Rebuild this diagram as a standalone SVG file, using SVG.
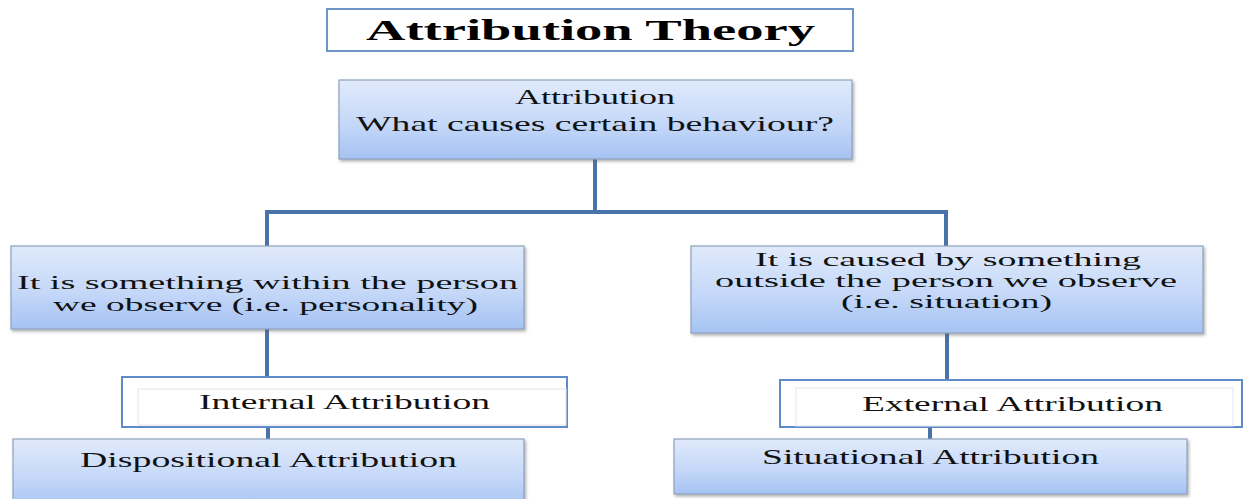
<svg xmlns="http://www.w3.org/2000/svg" width="1244" height="499" viewBox="0 0 1244 499">
<defs>
<linearGradient id="blue" x1="0" y1="0" x2="0" y2="1">
<stop offset="0" stop-color="#E0EAFB"/>
<stop offset="0.55" stop-color="#C5D8F8"/>
<stop offset="1" stop-color="#A5C3F3"/>
</linearGradient>
<filter id="shadow" x="-5%" y="-10%" width="110%" height="125%">
<feDropShadow dx="1.5" dy="2" stdDeviation="1.5" flood-color="#555" flood-opacity="0.45"/>
</filter>
</defs>
<style>
.t{font-family:"Liberation Serif","Times New Roman",serif;fill:#111;}
.title{font-family:"Liberation Serif","Times New Roman",serif;font-weight:bold;fill:#000;font-size:30px;}
.gbox{fill:url(#blue);stroke:#8EA2BE;stroke-width:1.2;filter:url(#shadow);}
.wbox{fill:#fff;stroke:#5F8BC9;stroke-width:2;}
.inner{fill:#fff;fill-opacity:0.6;stroke:#E2E6EC;stroke-width:1;}
.conn{stroke:#4A74A9;stroke-width:4;fill:none;}
</style>
<rect width="1244" height="499" fill="#fff"/>

<g id="connectors">
<path class="conn" d="M595,158 V212 M267,246 V212 H946 V246"/>
<path class="conn" d="M267,329 V389"/>
<path class="conn" d="M268,425 V439"/>
<path class="conn" d="M947,333 V389"/>
<path class="conn" d="M930,425 V439"/>
</g>

<g id="title">
<rect x="327" y="9" width="526" height="42" fill="#fff" stroke="#6E93C6" stroke-width="2"/>
<text class="title" x="366" y="40" textLength="449" lengthAdjust="spacingAndGlyphs">Attribution Theory</text>
</g>

<g id="attribution">
<rect class="gbox" x="339" y="80" width="513" height="79"/>
<text class="t" x="515" y="104" font-size="21" textLength="160" lengthAdjust="spacingAndGlyphs">Attribution</text>
<text class="t" x="356" y="131" font-size="21" textLength="478" lengthAdjust="spacingAndGlyphs">What causes certain behaviour?</text>
</g>

<g id="within">
<rect class="gbox" x="11" y="246" width="513" height="83"/>
<text class="t" x="17" y="289" font-size="19" textLength="501" lengthAdjust="spacingAndGlyphs">It is something  within the person</text>
<text class="t" x="53" y="311" font-size="19" textLength="425" lengthAdjust="spacingAndGlyphs">we observe (i.e. personality)</text>
</g>

<g id="outside">
<rect class="gbox" x="691" y="246" width="512" height="87"/>
<text class="t" x="755" y="266" font-size="18" textLength="386" lengthAdjust="spacingAndGlyphs">It is caused  by something</text>
<text class="t" x="715" y="287" font-size="18" textLength="462" lengthAdjust="spacingAndGlyphs">outside the person  we observe</text>
<text class="t" x="841" y="308" font-size="18" textLength="211" lengthAdjust="spacingAndGlyphs">(i.e. situation)</text>
</g>

<g id="internal">
<rect class="wbox" x="122" y="377" width="445" height="50"/>
<rect class="inner" x="138" y="389" width="428" height="36"/>
<text class="t" x="199" y="409" font-size="21" textLength="291" lengthAdjust="spacingAndGlyphs">Internal Attribution</text>
</g>

<g id="external">
<rect class="wbox" x="780" y="380" width="462" height="47"/>
<rect class="inner" x="796" y="388" width="437" height="38"/>
<text class="t" x="862" y="411" font-size="21" textLength="301" lengthAdjust="spacingAndGlyphs">External Attribution</text>
</g>

<g id="dispositional">
<rect class="gbox" x="13" y="439" width="511" height="70"/>
<text class="t" x="80" y="467" font-size="21" textLength="377" lengthAdjust="spacingAndGlyphs">Dispositional  Attribution</text>
</g>

<g id="situational">
<rect class="gbox" x="674" y="439" width="513" height="55"/>
<text class="t" x="762" y="464" font-size="21" textLength="337" lengthAdjust="spacingAndGlyphs">Situational  Attribution</text>
</g>
</svg>
